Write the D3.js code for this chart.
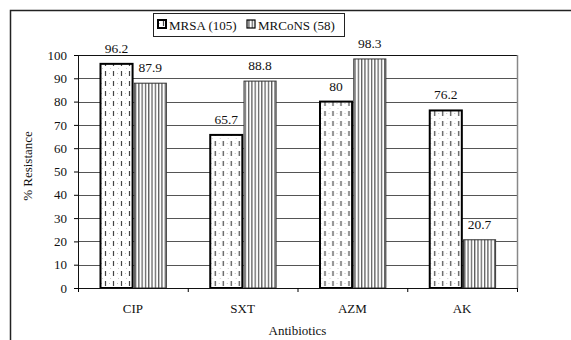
<!DOCTYPE html>
<html>
<head>
<meta charset="utf-8">
<script src="https://cdn.jsdelivr.net/npm/d3@7"></script>
<style>
  html, body { margin: 0; padding: 0; background: #fff; }
  svg { display: block; font-family: "Liberation Serif", "Times New Roman", serif; }
</style>
</head>
<body>
<svg id="chart" width="571" height="340"></svg>
<script>
const categories = ["CIP", "SXT", "AZM", "AK"];
const seriesNames = ["MRSA (105)", "MRCoNS (58)"];
const mrsaValues = [96.2, 65.7, 80, 76.2];
const mrconsValues = [87.9, 88.8, 98.3, 20.7];
const valueLabels = [["96.2", "65.7", "80", "76.2"], ["87.9", "88.8", "98.3", "20.7"]];
const yTicks = [0, 10, 20, 30, 40, 50, 60, 70, 80, 90, 100];
const xTitle = "Antibiotics";
const yTitle = "% Resistance";

(function () {
const FONT = "'Liberation Serif', 'Times New Roman', serif";
const seriesValues = [mrsaValues, mrconsValues];
const svg = d3.select("#chart");

// patterns
const defs = svg.append("defs");
const p1 = defs.append("pattern").attr("id", "pMRSA").attr("patternUnits", "userSpaceOnUse")
  .attr("width", 8).attr("height", 10);
p1.append("rect").attr("width", 8).attr("height", 10).attr("fill", "#fff");
p1.append("line").attr("x1", 3.5).attr("x2", 3.5).attr("y1", 1).attr("y2", 6)
  .attr("stroke", "#444").attr("stroke-width", 1.2);
p1.append("rect").attr("x", 7).attr("y", 3).attr("width", 1).attr("height", 1).attr("fill", "#bbb");
p1.append("rect").attr("x", 0).attr("y", 8).attr("width", 1).attr("height", 1).attr("fill", "#ccc");
const p2 = defs.append("pattern").attr("id", "pMRCONS").attr("patternUnits", "userSpaceOnUse")
  .attr("width", 3.3).attr("height", 10);
p2.append("rect").attr("width", 3.3).attr("height", 10).attr("fill", "#fff");
p2.append("line").attr("x1", 1.5).attr("x2", 1.5).attr("y1", 0).attr("y2", 10)
  .attr("stroke", "#333").attr("stroke-width", 1);
const fills = ["url(#pMRSA)", "url(#pMRCONS)"];
const strokes = ["#000", "#333"];
const strokeW = [2, 1];

// outer frame
svg.append("rect").attr("x", 10.5).attr("y", 10.5).attr("width", 700).attr("height", 400)
  .attr("fill", "none").attr("stroke", "#222").attr("stroke-width", 1.5);

const pl = 78, pr = 517, pt = 55, pb = 288;
const y = d3.scaleLinear().domain([0, 100]).range([pb, pt]);
const x0 = d3.scaleBand().domain(categories).range([pl, pr]).padding(0);
const bw = x0.bandwidth();
const x1 = d3.scaleBand().domain(d3.range(2)).range([0.205 * bw, 0.805 * bw]).paddingInner(0.05);

// gridlines
svg.append("g").selectAll("line").data(yTicks.slice(1, -1)).join("line")
  .attr("x1", pl).attr("x2", pr)
  .attr("y1", d => Math.round(y(d)) + 0.5).attr("y2", d => Math.round(y(d)) + 0.5)
  .attr("stroke", "#555").attr("stroke-width", 1);
// top and right border
svg.append("line").attr("x1", pl).attr("x2", pr).attr("y1", pt + 0.5).attr("y2", pt + 0.5)
  .attr("stroke", "#111").attr("stroke-width", 1.2);
svg.append("line").attr("x1", pr + 0.5).attr("x2", pr + 0.5).attr("y1", pt).attr("y2", pb)
  .attr("stroke", "#888").attr("stroke-width", 1.5);

// bars
const groups = svg.append("g").selectAll("g").data(categories).join("g")
  .attr("transform", c => `translate(${x0(c)},0)`);
groups.selectAll("rect").data((c, i) => seriesValues.map((s, k) => ({ k, v: s[i], i })))
  .join("rect")
  .attr("x", d => x1(d.k))
  .attr("width", x1.bandwidth())
  .attr("y", d => y(d.v))
  .attr("height", d => y(0) - y(d.v))
  .attr("fill", d => fills[d.k])
  .attr("stroke", d => strokes[d.k])
  .attr("stroke-width", d => strokeW[d.k]);
groups.selectAll("text").data((c, i) => seriesValues.map((s, k) => ({ k, v: s[i], i })))
  .join("text")
  .attr("x", d => x1(d.k) + x1.bandwidth() / 2)
  .attr("y", d => y(d.v) - 11)
  .attr("text-anchor", "middle")
  .attr("font-family", FONT)
  .attr("font-size", 13.5)
  .attr("fill", "#111")
  .text(d => valueLabels[d.k][d.i]);

// axes
const yAxis = d3.axisLeft(y).tickValues(yTicks).tickSize(4).tickPadding(7).tickSizeOuter(0);
const gy = svg.append("g").attr("transform", `translate(${pl},0)`).call(yAxis);
gy.attr("font-family", FONT);
gy.selectAll("text").attr("font-size", 13).attr("font-family", FONT).attr("fill", "#111");
gy.select(".domain").attr("stroke", "#111");

const xTickScale = d3.scaleLinear().domain([0, categories.length]).range([pl, pr]);
const xAxis = d3.axisBottom(xTickScale).tickValues(d3.range(categories.length + 1)).tickSize(4)
  .tickFormat("").tickSizeOuter(0);
const gx = svg.append("g").attr("transform", `translate(0,${pb})`).call(xAxis);
gx.select(".domain").attr("stroke", "#111").attr("stroke-width", 1.2);
svg.append("g").selectAll("text").data(categories).join("text")
  .attr("x", c => x0(c) + bw / 2).attr("y", 313)
  .attr("text-anchor", "middle").attr("font-family", FONT).attr("font-size", 13)
  .attr("fill", "#111").text(c => c);

svg.append("text").attr("x", (pl + pr) / 2).attr("y", 335).attr("text-anchor", "middle")
  .attr("font-family", FONT).attr("font-size", 13).attr("fill", "#111").text(xTitle);
svg.append("text").attr("transform", "translate(32,166) rotate(-90)").attr("text-anchor", "middle")
  .attr("font-family", FONT).attr("font-size", 13).attr("fill", "#111").text(yTitle);

// legend
const lg = svg.append("g");
lg.append("rect").attr("x", 153.5).attr("y", 13.5).attr("width", 191).attr("height", 23)
  .attr("fill", "#fff").attr("stroke", "#222").attr("stroke-width", 1);
const legX = [158, 247];
seriesNames.forEach((n, k) => {
  lg.append("rect").attr("x", legX[k]).attr("y", 20).attr("width", 8).attr("height", 8)
    .attr("fill", fills[k]).attr("stroke", "#000").attr("stroke-width", k === 0 ? 2 : 1.2);
  lg.append("text").attr("x", legX[k] + 11).attr("y", 29.5)
    .attr("font-family", FONT).attr("font-size", 13)
    .attr("fill", "#111").text(n);
});
})();
</script>
</body>
</html>
